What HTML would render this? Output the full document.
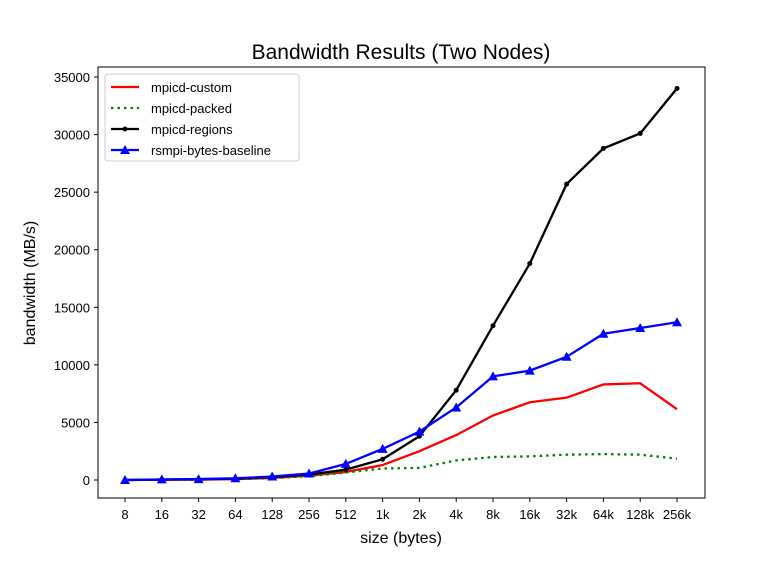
<!DOCTYPE html>
<html><head><meta charset="utf-8"><style>body{margin:0;background:#fff}svg{display:block;font-family:"Liberation Sans","DejaVu Sans",sans-serif}</style></head>
<body>
<svg id="chart" width="783" height="561" viewBox="0 0 783 561" xmlns="http://www.w3.org/2000/svg">
<rect width="783" height="561" fill="#fff"/>
<text x="401" y="59" text-anchor="middle" font-size="21">Bandwidth Results (Two Nodes)</text>
<text x="401" y="543" text-anchor="middle" font-size="16">size (bytes)</text>
<text transform="translate(35,283) rotate(-90)" text-anchor="middle" font-size="16">bandwidth (MB/s)</text>
<g id="ticks"></g>
<g id="series"></g>
<rect x="98" y="67" width="607" height="431" fill="none" stroke="#000" stroke-width="1"/>
<g id="legend"></g>
</svg>
<script>
const categories=["8","16","32","64","128","256","512","1k","2k","4k","8k","16k","32k","64k","128k","256k"];
const yTicks=[0,5000,10000,15000,20000,25000,30000,35000];
const custom=[0,20,40,80,180,380,700,1300,2500,3900,5600,6750,7150,8300,8400,6150];
const packed=[0,20,40,80,160,330,650,1000,1050,1700,2000,2050,2200,2250,2200,1850];
const regions=[0,30,60,120,250,480,900,1800,3800,7800,13400,18800,25700,28800,30100,34000];
const baseline=[0,50,80,150,300,560,1400,2700,4200,6300,9000,9500,10700,12700,13200,13700];
const NS="http://www.w3.org/2000/svg";
const xs=i=>125+i*(677-125)/(categories.length-1);
const ys=v=>480-v*(403/35000);
function mk(tag,attrs,parent){const e=document.createElementNS(NS,tag);for(const k in attrs)e.setAttribute(k,attrs[k]);parent.appendChild(e);return e;}
const tk=document.getElementById('ticks');
categories.forEach((c,i)=>{
  const l=mk('line',{x1:xs(i),x2:xs(i),y1:498,y2:502,stroke:'#000'},tk);
  
  
  const t=mk('text',{x:xs(i),y:519,'text-anchor':'middle','font-size':13},tk);t.textContent=c;
  
  
});
yTicks.forEach(v=>{
  const l=mk('line',{x1:94,x2:98,y1:ys(v),y2:ys(v),stroke:'#000'},tk);
  
  
  const t=mk('text',{x:90,y:ys(v)+5,'text-anchor':'end','font-size':13},tk);t.textContent=v;
  
  
});
const sg=document.getElementById('series');
const defs=[
 {name:'mpicd-custom',data:custom,color:'#ff0000',dash:null,marker:null},
 {name:'mpicd-packed',data:packed,color:'#008000',dash:'2.5,4',marker:null},
 {name:'mpicd-regions',data:regions,color:'#000',dash:null,marker:'dot'},
 {name:'rsmpi-bytes-baseline',data:baseline,color:'#0000ff',dash:null,marker:'tri'}];
function marker(type,x,y,color,parent){
  if(type==='dot'){const m=mk('circle',{cx:x,cy:y,r:2.5,fill:color},parent);return m;}
  if(type==='tri'){const m=mk('polygon',{points:`${x},${y-5} ${x-5},${y+4} ${x+5},${y+4}`,fill:color},parent);return m;}
}
defs.forEach(s=>{
  const g=mk('g',{},sg);
  
  
  const p=mk('polyline',{points:s.data.map((v,i)=>xs(i)+','+ys(v)).join(' '),fill:'none',stroke:s.color,'stroke-width':2.3},g);
  if(s.dash)p.setAttribute('stroke-dasharray',s.dash);
  
  
  if(s.marker)s.data.forEach((v,i)=>{const m=marker(s.marker,xs(i),ys(v),s.color,g);
    
    });
});
const lg=document.getElementById('legend');
mk('rect',{x:105,y:74,width:194,height:87,rx:3,fill:'#fff','fill-opacity':0.8,stroke:'#ccc'},lg);
defs.forEach((s,i)=>{
  const y=87+i*21;
  const e=mk('g',{},lg);
  
  
  const l=mk('line',{x1:111,x2:139,y1:y,y2:y,stroke:s.color,'stroke-width':2.3},e);
  if(s.dash)l.setAttribute('stroke-dasharray',s.dash);
  if(s.marker)marker(s.marker,125,y,s.color,e);
  const t=mk('text',{x:151,y:y+5,'font-size':13},e);t.textContent=s.name;
});
</script>
</body></html>
